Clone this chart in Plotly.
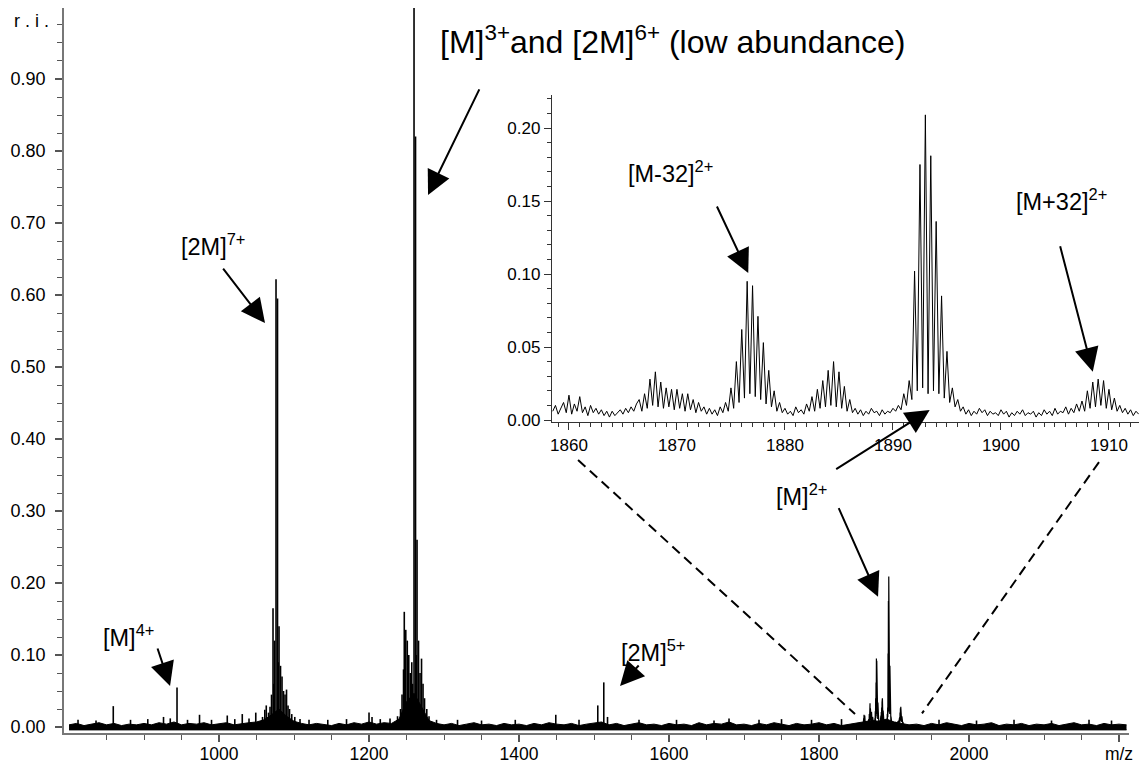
import plotly.graph_objects as go

# ---------------- DATA ----------------
# Main spectrum: baseline noise level sampled every 10 m/z from 800
BASE_MZ0 = 800
BASE_STEP = 10
BASE_INT = [
    .003, .005, .002, .004, .006, .003, .005, .002, .004, .003,
    .005, .003, .006, .004, .007, .003, .005, .004, .006, .003,
    .005, .006, .003, .005, .006, .007, .010, .017, .025, .015,
    .008, .005, .003, .005, .004, .002, .005, .003, .006, .004,
    .007, .004, .006, .005, .011, .035, .047, .029, .009, .005,
    .003, .005, .002, .004, .006, .003, .004, .002, .005, .003,
    .004, .002, .005, .003, .006, .004, .003, .005, .002, .004,
    .006, .007, .003, .005, .002, .004, .006, .003, .004, .002,
    .005, .003, .004, .002, .006, .003, .005, .004, .007, .003,
    .004, .002, .005, .003, .006, .004, .002, .005, .003, .004,
    .006, .003, .005, .002, .004, .006, .007, .009, .008, .011,
    .007, .005, .003, .004, .002, .005, .003, .006, .004, .002,
    .005, .003, .004, .006, .002, .004, .003, .005, .002, .004,
    .003, .005, .002, .004, .006, .003, .004, .002, .005, .003,
    .004, .003,
]
BAND_FLOOR = -0.004  # lower edge of the drawn noise band

# Main spectrum: individual peaks (m/z, relative intensity)
PEAK_MZ = [
    812, 836, 859, 882, 905, 926, 935, 944, 958, 974, 990,
    1011, 1021, 1031, 1040, 1049,
    1058, 1061, 1063, 1066, 1068, 1070, 1072, 1073, 1074, 1076, 1078, 1079,
    1080, 1082, 1084, 1086, 1088, 1090, 1092, 1094, 1097, 1101, 1108, 1120,
    1145, 1170, 1200, 1204, 1215, 1228,
    1238, 1242, 1244, 1246, 1247, 1249, 1251, 1253, 1255, 1257, 1258, 1260,
    1262, 1263, 1264, 1266, 1268, 1270, 1272, 1274, 1277, 1280,
    1290, 1318, 1350, 1395, 1449, 1480, 1505, 1513, 1518, 1560, 1610, 1660,
    1680, 1720, 1750, 1790, 1830, 1960, 2010, 2060, 2110, 2160, 2190,
]
PEAK_INT = [
    .010, .009, .029, .010, .011, .014, .012, .055, .010, .017, .010,
    .016, .011, .018, .012, .020,
    .014, .024, .030, .020, .028, .045, .165, .060, .120, .622, .595, .090,
    .140, .085, .070, .050, .045, .052, .030, .025, .018, .014, .011, .010,
    .010, .011, .020, .014, .011, .012,
    .015, .025, .045, .080, .160, .135, .120, .100, .075, .090, .060, 1.00,
    .820, .100, .260, .120, .075, .095, .060, .040, .025, .015,
    .010, .010, .009, .010, .017, .010, .030, .062, .014, .010, .010, .009,
    .012, .010, .011, .010, .011, .010, .009, .010, .009, .010, .009,
]

# Inset: profile spectrum sampled every 0.25 m/z from 1858.5
INSET_MZ0 = 1858.5
INSET_STEP = 0.25
INSET_INT = [
    # 1858.50 - 1866.25
    .006, .010, .004, .008, .012, .005, .017, .004, .011, .006, .016, .005,
    .009, .003, .010, .005, .008, .004, .007, .003, .006, .002, .006, .003,
    .005, .007, .004, .008, .005, .009, .006, .011,
    # 1866.50 - 1872.75
    .014, .006, .018, .008, .028, .010, .033, .009, .026, .008, .022, .009,
    .021, .007, .021, .008, .018, .006, .018, .007, .014, .005, .012, .006,
    .009, .004,
    # 1873.00 - 1874.75
    .008, .004, .007, .003, .009, .005, .012, .006,
    # 1875.00 - 1879.75  [M-32]2+
    .022, .008, .040, .012, .062, .015, .095, .018, .092, .016, .071, .014,
    .053, .011, .034, .009, .020, .006, .012, .005,
    # 1880.00 - 1882.25
    .008, .004, .006, .003, .009, .005, .007, .004, .011, .006,
    # 1882.50 - 1886.25
    .016, .006, .021, .008, .027, .009, .034, .010, .040, .009, .033, .008,
    .023, .006, .014, .005,
    # 1886.50 - 1890.75
    .008, .004, .007, .003, .006, .004, .008, .005, .006, .003, .007, .004,
    .006, .005, .008, .006, .010, .007,
    # 1891.00 - 1896.25  [M]2+
    .018, .010, .027, .014, .102, .020, .175, .022, .209, .018, .181, .020,
    .136, .018, .085, .015, .047, .012, .022, .009, .014, .006,
    # 1896.50 - 1907.25
    .009, .004, .007, .003, .006, .004, .008, .005, .007, .003, .006, .004,
    .005, .003, .007, .004, .006, .002, .005, .003, .006, .004, .007, .003,
    .005, .004, .006, .002, .005, .003, .007, .004, .006, .003, .008, .004,
    .006, .005, .009, .004, .008, .005, .011, .006,
    # 1907.50 - 1911.25  [M+32]2+
    .013, .006, .020, .008, .026, .009, .028, .010, .027, .008, .021, .007,
    .015, .006, .010, .005,
    # 1911.50 - 1912.75
    .008, .004, .007, .003, .006, .004,
]

MAIN_TICKS = [1000, 1200, 1400, 1600, 1800, 2000, 2200]
MAIN_TICKTEXT = ["1000", "1200", "1400", "1600", "1800", "2000", "m/z"]
Y_TICKS = [0.0, 0.1, 0.2, 0.3, 0.4, 0.5, 0.6, 0.7, 0.8, 0.9]
INSET_XTICKS = [1860, 1870, 1880, 1890, 1900, 1910]
INSET_YTICKS = [0.0, 0.05, 0.10, 0.15, 0.20]

# ---------------- FIGURE ----------------
W, H = 1141, 765
ML, MR, MT, MB = 64, 2, 8, 32
PW, PH = W - ML - MR, H - MT - MB


def px(x):
    return (x - ML) / PW


def py(y):
    return (H - MB - y) / PH


FONT = "Liberation Sans, Arial, Helvetica, sans-serif"

fig = go.Figure()

base_mz = [BASE_MZ0 + i * BASE_STEP for i in range(len(BASE_INT))]
fig.add_trace(go.Scatter(x=base_mz, y=[BAND_FLOOR] * len(base_mz), mode="lines",
                         line=dict(color="black", width=1), hoverinfo="skip"))
fig.add_trace(go.Scatter(x=base_mz, y=BASE_INT, mode="lines",
                         line=dict(color="black", width=1),
                         fill="tonexty", fillcolor="black",
                         hoverinfo="skip"))

sx, sy = [], []
for m, h in zip(PEAK_MZ, PEAK_INT):
    sx += [m, m, None]
    sy += [0, h, None]
fig.add_trace(go.Scatter(x=sx, y=sy, mode="lines",
                         line=dict(color="black", width=1.6),
                         hoverinfo="skip"))

inset_mz = [INSET_MZ0 + i * INSET_STEP for i in range(len(INSET_INT))]
fig.add_trace(go.Scatter(x=inset_mz, y=INSET_INT, mode="lines",
                         line=dict(color="black", width=1.2),
                         hoverinfo="skip"))
fig.add_trace(go.Scatter(x=inset_mz, y=INSET_INT, mode="lines",
                         line=dict(color="black", width=1),
                         xaxis="x2", yaxis="y2", hoverinfo="skip"))

axis_common = dict(showgrid=False, zeroline=False, showline=True,
                   ticks="outside", mirror=False, automargin=False)

fig.update_layout(
    width=W, height=H,
    margin=dict(l=ML, r=MR, t=MT, b=MB, pad=0, autoexpand=False),
    paper_bgcolor="white", plot_bgcolor="white",
    showlegend=False,
    font=dict(family=FONT, color="black", size=18),
    xaxis=dict(
        **axis_common,
        domain=[0, (1129 - ML) / PW],
        range=[793.3, 2213.3],
        anchor="y",
        linecolor="#777", linewidth=1.5,
        tickvals=MAIN_TICKS, ticktext=MAIN_TICKTEXT,
        ticklen=7, tickwidth=1.5, tickcolor="#555",
        tickfont=dict(size=17.5),
        ticklabelstandoff=-3,
        minor=dict(tickvals=[v for v in range(850, 2201, 50)],
                   ticks="outside", ticklen=5, tickwidth=1.2,
                   tickcolor="#555", showgrid=False),
    ),
    yaxis=dict(
        **axis_common,
        domain=[0, 1],
        range=[-0.0083, 0.9986],
        anchor="x",
        linecolor="#777", linewidth=1.5,
        tickvals=Y_TICKS, tickformat=".2f",
        ticklen=7, tickwidth=1.5, tickcolor="#555",
        tickfont=dict(size=18),
        ticklabelstandoff=6,
        minor=dict(tickvals=[i * 0.025 for i in range(0, 40)],
                   ticks="outside", ticklen=5, tickwidth=1.2,
                   tickcolor="#555", showgrid=False),
    ),
    xaxis2=dict(
        **axis_common,
        domain=[px(552), 1],
        range=[1858.43, 1912.78],
        anchor="y2",
        linecolor="#333", linewidth=1.3,
        tickvals=INSET_XTICKS,
        ticklen=7, tickwidth=1.3, tickcolor="#333",
        tickfont=dict(size=17),
        minor=dict(dtick=1, tick0=1858, ticks="outside", ticklen=4,
                   tickwidth=1, tickcolor="#333", showgrid=False),
    ),
    yaxis2=dict(
        **axis_common,
        domain=[py(422), py(95)],
        range=[-0.00137, 0.2226],
        anchor="x2",
        linecolor="#333", linewidth=1.3,
        tickvals=INSET_YTICKS, tickformat=".2f",
        ticklen=7, tickwidth=1.3, tickcolor="#333",
        tickfont=dict(size=17),
        minor=dict(dtick=0.01, tick0=0, ticks="outside", ticklen=4,
                   tickwidth=1, tickcolor="#333", showgrid=False),
    ),
)

# dashed zoom connectors (main-axis data coordinates)
for x0, y0, x1, y1 in [(1478.7, 0.371, 1848, 0.018), (2173.3, 0.368, 1937.3, 0.019)]:
    fig.add_shape(type="line", xref="x", yref="y", x0=x0, y0=y0, x1=x1, y1=y1,
                  line=dict(color="black", width=2, dash="10px,6px"))

anns = []
# text labels
labels = [
    ("[M]<sup>3+</sup>and [2M]<sup>6+</sup> (low abundance)", 438, 40, 32),
    ("[2M]<sup>7+</sup>", 179, 245, 23.5),
    ("[M]<sup>4+</sup>", 101, 636, 23.5),
    ("[2M]<sup>5+</sup>", 619, 651, 23.5),
    ("[M]<sup>2+</sup>", 774, 495, 23.5),
    ("[M-32]<sup>2+</sup>", 626, 172, 23.5),
    ("[M+32]<sup>2+</sup>", 1014, 200, 23.5),
]
for txt, lx, ly, fs in labels:
    anns.append(dict(text=txt, xref="paper", yref="paper", x=px(lx), y=py(ly),
                     xanchor="left", yanchor="middle", showarrow=False,
                     font=dict(size=fs, family=FONT, color="black")))

anns.append(dict(text="r . i .", xref="paper", yref="paper", x=px(51), y=py(21),
                 xanchor="right", yanchor="middle", showarrow=False,
                 font=dict(size=18, family=FONT, color="black")))

# arrows: (xref, yref, tip x, tip y, ax, ay)
arrows = [
    ("x", "y", 1278.7, 0.739, 52, -107),
    ("x", "y", 1061.3, 0.561, -43, -56),
    ("x", "y", 934.7, 0.057, -13, -39),
    ("x", "y", 1534.7, 0.057, 20, -22),
    ("x", "y", 1878.7, 0.181, -40, -90),
    ("x2", "y2", 1876.6, 0.1007, -32, -68),
    ("x2", "y2", 1908.5, 0.033, -33, -127),
    ("x2", "y2", 1893.4, 0.0068, -95, 60),
]
for xr, yr, x, y, ax, ay in arrows:
    anns.append(dict(text="", xref=xr, yref=yr, x=x, y=y, ax=ax, ay=ay,
                     showarrow=True, arrowhead=2, arrowsize=2.4, arrowwidth=2,
                     arrowcolor="black", standoff=0))

fig.update_layout(annotations=anns)

fig.write_html(
    "out.html",
    config={"displayModeBar": False},
    post_script="document.body.style.margin='0';document.body.style.overflow='hidden';",
)
